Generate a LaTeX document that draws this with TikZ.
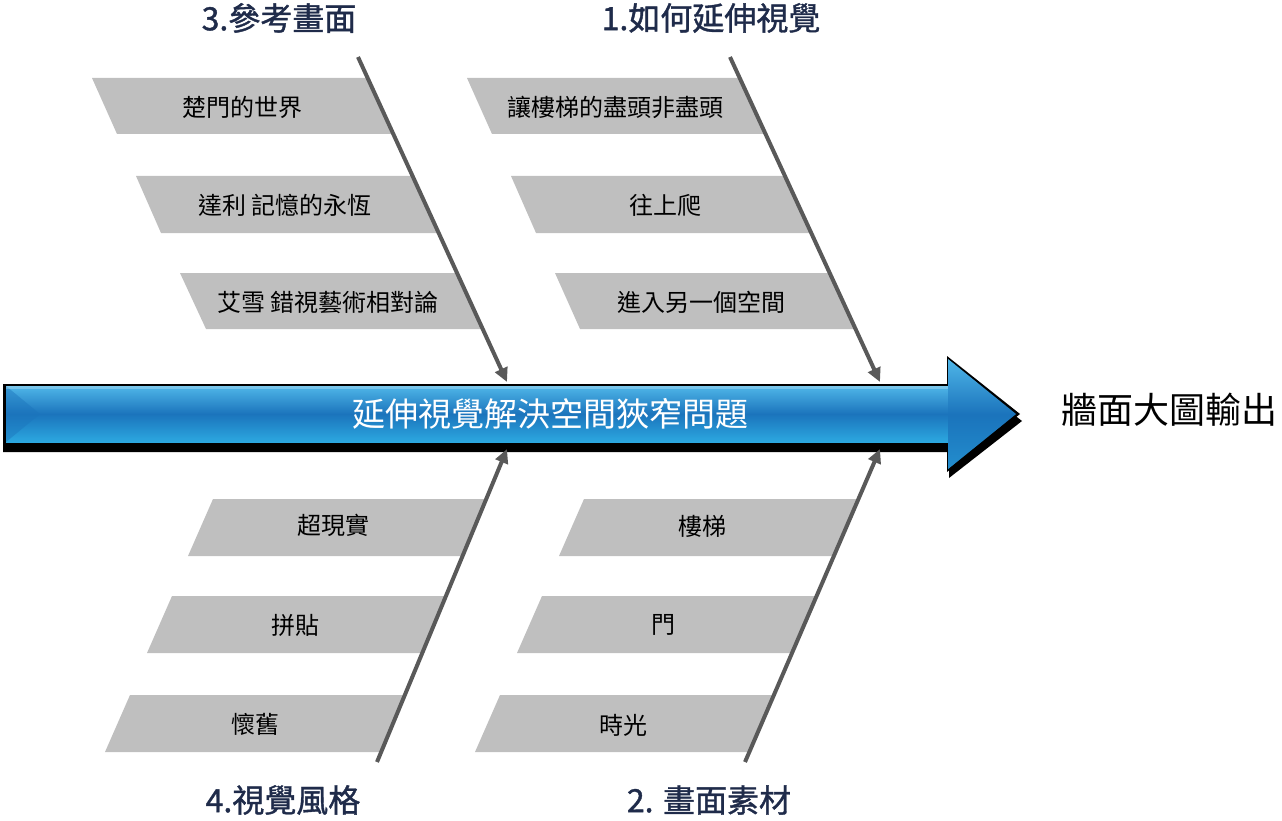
\documentclass[tikz,border=0pt]{standalone}
\usepackage{fontspec}
\newfontfamily\cjk{Noto Sans CJK TC}
\newfontfamily\cjkb[FakeBold=1.2]{Noto Sans CJK TC}
\usetikzlibrary{arrows.meta}
\definecolor{boxgray}{HTML}{BFBFBF}
\definecolor{bonegray}{HTML}{595959}
\definecolor{navy}{HTML}{1F2B4A}
\definecolor{blueL}{HTML}{4FB6E8}
\definecolor{blueM}{HTML}{1B74BC}
\definecolor{blueB}{HTML}{2CA8E0}
\tikzset{
  boxtxt/.style={font=\cjk\fontsize{24pt}{24pt}\selectfont, text=black, inner sep=0pt, anchor=center},
  headtxt/.style={font=\cjkb\fontsize{32pt}{32pt}\selectfont, text=navy, inner sep=0pt, anchor=center},
  bone/.style={draw=bonegray, line width=4pt, -{Triangle[length=14pt,width=13pt]}},
}
\begin{document}
\begin{tikzpicture}[x=1pt,y=-1pt]
\useasboundingbox (0,0) rectangle (1282,821);
% ---- top-left boxes (3) ----
\fill[boxgray] (92,78) -- (368,78) -- (394,134) -- (117,134) -- cycle;
\fill[boxgray] (136,176) -- (413,176) -- (439,233) -- (161,233) -- cycle;
\fill[boxgray] (180,273) -- (458,273) -- (484,329) -- (206,329) -- cycle;
% ---- top-right boxes (1) ----
\fill[boxgray] (467,78) -- (740,78) -- (766,134) -- (492,134) -- cycle;
\fill[boxgray] (511,176) -- (785,176) -- (811,233) -- (536,233) -- cycle;
\fill[boxgray] (555,273) -- (830,273) -- (856,329) -- (580,329) -- cycle;
% ---- bottom-left boxes (4) ----
\fill[boxgray] (213,499) -- (486,499) -- (462,556) -- (188,556) -- cycle;
\fill[boxgray] (172,596) -- (446,596) -- (422,653) -- (147,653) -- cycle;
\fill[boxgray] (130,695) -- (405,695) -- (381,752) -- (105,752) -- cycle;
% ---- bottom-right boxes (2) ----
\fill[boxgray] (584,499) -- (858,499) -- (834,556) -- (559,556) -- cycle;
\fill[boxgray] (542,596) -- (816,596) -- (791,653) -- (517,653) -- cycle;
\fill[boxgray] (500,695) -- (773,695) -- (748,752) -- (475,752) -- cycle;
% ---- box texts ----
\node[boxtxt] (t31) at (242,107) {楚門的世界};
\node[boxtxt] (t32) at (285,205) {達利 記憶的永恆};
\node[boxtxt] (t33) at (328,302) {艾雪 錯視藝術相對論};
\node[boxtxt] (t11) at (615,107) {讓樓梯的盡頭非盡頭};
\node[boxtxt] (t12) at (665,205) {往上爬};
\node[boxtxt] (t13) at (701,302) {進入另一個空間};
\node[boxtxt] (t41) at (333,525) {超現實};
\node[boxtxt] (t42) at (295,625) {拼貼};
\node[boxtxt] (t43) at (255,724) {懷舊};
\node[boxtxt] (t21) at (702,526) {樓梯};
\node[boxtxt] (t22) at (663,625) {門};
\node[boxtxt] (t23) at (623,725) {時光};
% ---- main arrow ----
\fill[black] (3,391) -- (949,391) -- (949,364) -- (1022,421) -- (949,478) -- (949,452) -- (3,452) -- cycle;
\fill[black] (3,384) -- (947,384) -- (947,356) -- (1020,414) -- (947,472) -- (947,444) -- (3,444) -- cycle;
\shade[top color=blueL, bottom color=blueB, middle color=blueM]
  (6,386) -- (948,386) -- (948,442) -- (6,442) -- cycle;
\shade[top color=blueL, bottom color=blueB, middle color=blueM]
  (948,359) -- (1016,414) -- (948,469) -- cycle;
\fill[blueM, opacity=0.5] (948,414) -- (1016,414) -- (948,469) -- cycle;
\fill[blueM, opacity=0.45] (6,386) -- (40,414) -- (6,442) -- cycle;
\fill[white, opacity=0.25] (6,386) rectangle (948,389);
\node[font=\cjk\fontsize{33pt}{33pt}\selectfont, text=white, inner sep=0pt] (main) at (550,414) {延伸視覺解決空間狹窄問題};
\node[font=\cjk\fontsize{36pt}{36pt}\selectfont, text=black, inner sep=0pt] (out) at (1169,410) {牆面大圖輸出};
% ---- headers ----
\node[headtxt] (h3) at (279,18) {3.參考畫面};
\node[headtxt] (h1) at (711,18) {1.如何延伸視覺};
\node[headtxt] (h4) at (283,800) {4.視覺風格};
\node[headtxt] (h2) at (709,800) {2. 畫面素材};
% ---- bones ----
\coordinate (b3s) at (358,57);  \coordinate (b3e) at (507,382);
\coordinate (b1s) at (730,57);  \coordinate (b1e) at (880,382);
\coordinate (b4s) at (377,762); \coordinate (b4e) at (507,449);
\coordinate (b2s) at (745,762); \coordinate (b2e) at (880,449);
\draw[bone] (b3s) -- (b3e);
\draw[bone] (b1s) -- (b1e);
\draw[bone] (b4s) -- (b4e);
\draw[bone] (b2s) -- (b2e);
\end{tikzpicture}
\end{document}
